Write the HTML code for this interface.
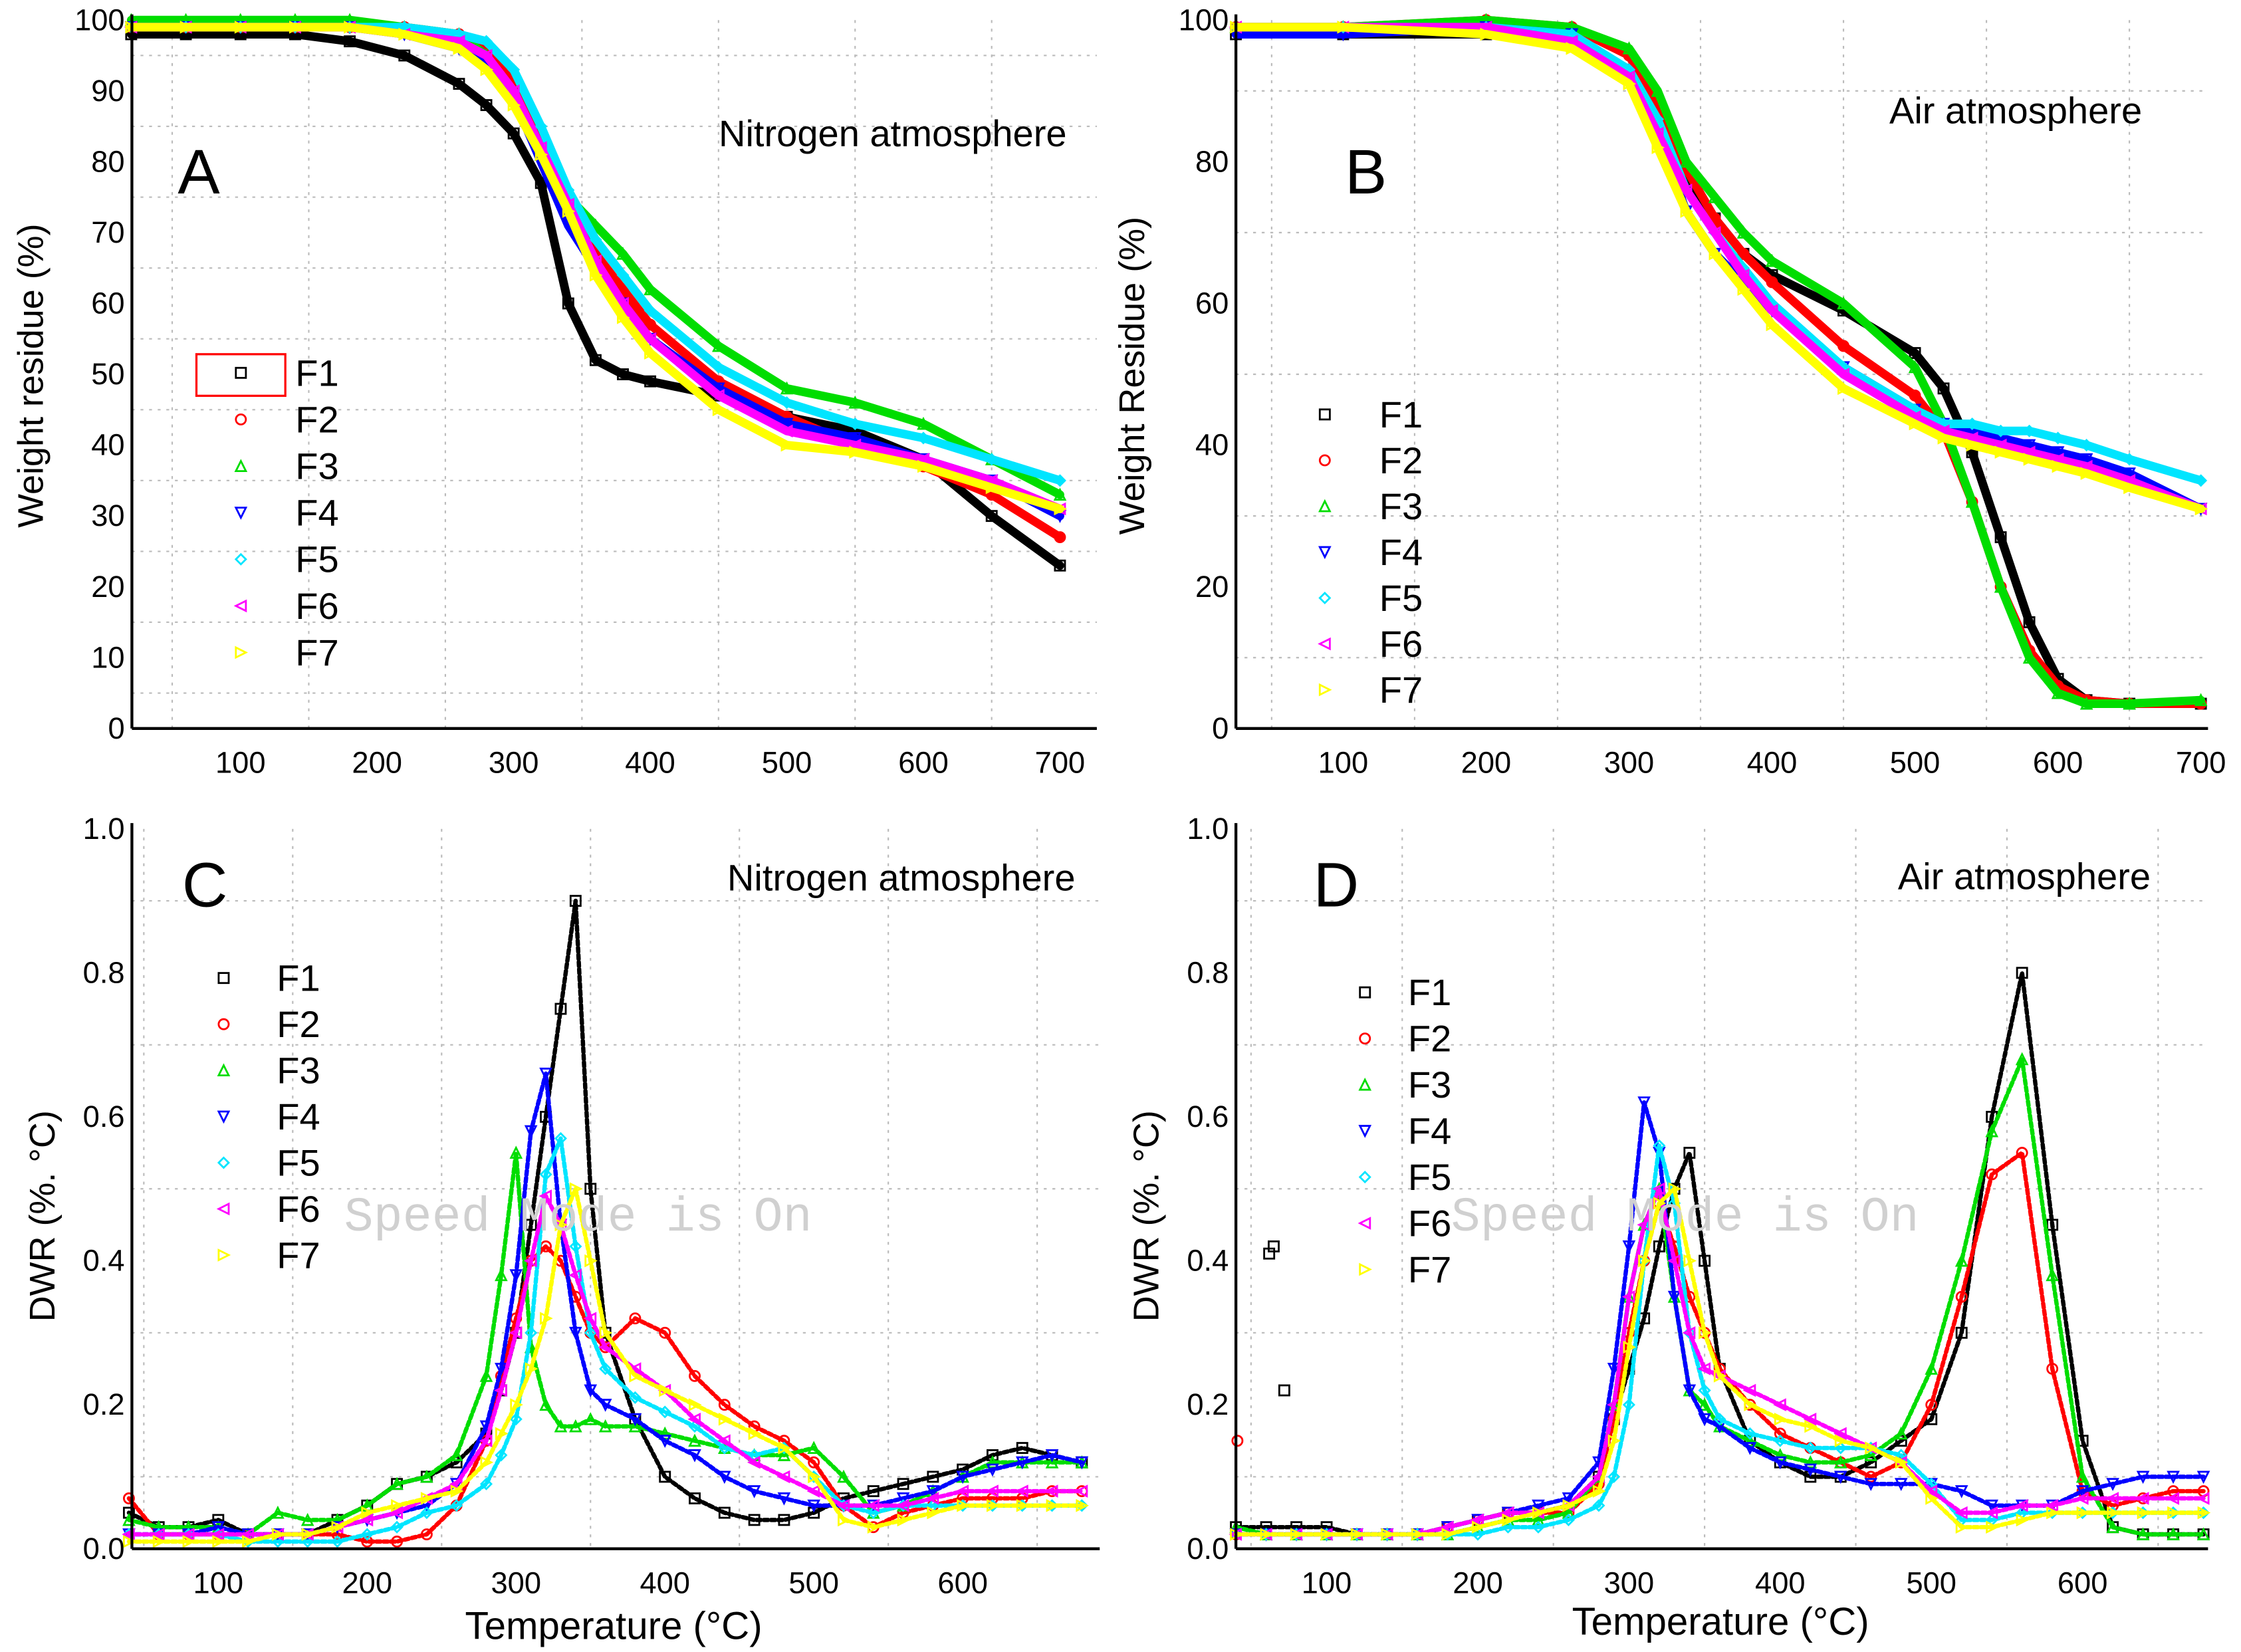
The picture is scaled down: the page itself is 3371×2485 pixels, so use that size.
<!DOCTYPE html>
<html><head><meta charset="utf-8">
<style>
html,body{margin:0;padding:0;background:#fff;}
svg{display:block;}
text{font-family:"Liberation Sans",sans-serif;fill:#000;}
</style></head>
<body>
<svg id="fig" width="3371" height="2485" viewBox="0 0 1563 1152" preserveAspectRatio="none" xmlns="http://www.w3.org/2000/svg"></svg>
<script>
// ---------- DATA ----------
const seriesNames = ["F1","F2","F3","F4","F5","F6","F7"];
const seriesColors = ["#000000","#ff0000","#00dd00","#0000ff","#00e5ff","#ff00ff","#ffff00"];
const seriesShapes = ["square","circle","up","down","diamond","left","right"];

const tempsA = [20,60,100,140,180,220,260,280,300,320,340,360,380,400,450,500,550,600,650,700];
const a_F1 = [98,98,98,98,97,95,91,88,84,77,60,52,50,49,47,44,42,38,30,23];
const a_F2 = [99,99,99,99,99,99,98,96,91,82,74,67,62,57,49,44,40,37,33,27];
const a_F3 = [100,100,100,100,100,99,98,95,89,81,75,71,67,62,54,48,46,43,38,33];
const a_F4 = [99,99,99,99,99,98,96,94,89,80,71,65,60,55,48,43,41,38,35,30];
const a_F5 = [99,99,99,99,99,99,98,97,93,85,76,69,64,59,51,46,43,41,38,35];
const a_F6 = [99,99,99,99,99,98,97,95,90,82,74,66,60,55,47,42,40,38,35,31];
const a_F7 = [99,99,99,99,99,98,96,93,88,81,73,64,58,53,45,40,39,37,34,31];

const tempsB = [25,100,200,260,300,320,340,360,380,400,450,500,520,540,560,580,600,620,650,700];
const b_F1 = [98,98,98,97,93,87,78,72,67,64,59,53,48,39,27,15,7,4,3.5,3.5];
const b_F2 = [99,99,100,99,95,88,79,72,67,63,54,47,42,32,20,11,6,4,3.5,3.5];
const b_F3 = [99,99,100,99,96,90,80,75,70,66,60,51,43,32,20,10,5,3.5,3.5,4];
const b_F4 = [98,98,99,98,92,84,73,67,63,59,51,45,43,42,41,40,39,38,36,31];
const b_F5 = [99,99,99,98,93,86,76,70,65,60,51,45,43,43,42,42,41,40,38,35];
const b_F6 = [99,99,99,97,92,84,76,70,64,59,50,44,42,41,40,39,38,37,35,31];
const b_F7 = [99,99,98,96,91,82,73,67,62,57,48,43,41,40,39,38,37,36,34,31];

const tempsDTG = [40,60,80,100,120,140,160,180,200,220,240,260,280,290,300,310,320,330,340,350,360,380,400,420,440,460,480,500,520,540,560,580,600,620,640,660,680];
const c_F1 = [.05,.03,.03,.04,.02,.02,.02,.04,.06,.09,.10,.12,.16,.22,.30,.45,.60,.75,.90,.50,.30,.18,.10,.07,.05,.04,.04,.05,.07,.08,.09,.10,.11,.13,.14,.13,.12];
const c_F2 = [.07,.02,.02,.02,.02,.02,.02,.02,.01,.01,.02,.06,.15,.24,.32,.40,.42,.40,.35,.30,.28,.32,.30,.24,.20,.17,.15,.12,.06,.03,.05,.06,.07,.07,.07,.08,.08];
const c_F3 = [.04,.03,.03,.03,.02,.05,.04,.04,.06,.09,.10,.13,.24,.38,.55,.28,.20,.17,.17,.18,.17,.17,.16,.15,.14,.13,.13,.14,.10,.05,.06,.08,.10,.12,.12,.12,.12];
const c_F4 = [.02,.02,.02,.03,.02,.02,.02,.03,.04,.05,.06,.09,.17,.25,.38,.58,.66,.45,.30,.22,.20,.18,.15,.13,.10,.08,.07,.06,.06,.06,.07,.08,.10,.11,.12,.13,.12];
const c_F5 = [.02,.02,.02,.02,.01,.01,.01,.01,.02,.03,.05,.06,.09,.13,.18,.30,.52,.57,.42,.30,.25,.21,.19,.17,.14,.13,.14,.10,.06,.05,.06,.06,.06,.06,.06,.06,.06];
const c_F6 = [.02,.02,.02,.02,.02,.02,.02,.03,.04,.05,.07,.09,.15,.22,.30,.40,.49,.45,.38,.32,.28,.25,.22,.18,.15,.12,.10,.08,.06,.06,.06,.07,.08,.08,.08,.08,.08];
const c_F7 = [.01,.01,.01,.01,.01,.02,.02,.03,.05,.06,.07,.08,.12,.16,.20,.25,.32,.45,.50,.40,.30,.24,.22,.20,.18,.16,.14,.10,.04,.03,.04,.05,.06,.06,.06,.06,.06];

const d_F1 = [.03,.03,.03,.03,.02,.02,.02,.03,.04,.05,.05,.06,.10,.18,.25,.32,.42,.50,.55,.40,.25,.15,.12,.10,.10,.12,.15,.18,.30,.60,.80,.45,.15,.03,.02,.02,.02];
const d_F2 = [.02,.02,.02,.02,.02,.02,.02,.03,.04,.05,.05,.05,.09,.18,.30,.40,.48,.42,.35,.30,.25,.20,.16,.14,.12,.10,.12,.20,.35,.52,.55,.25,.08,.06,.07,.08,.08];
const d_F3 = [.03,.02,.02,.02,.02,.02,.02,.02,.03,.04,.04,.05,.10,.20,.35,.45,.50,.35,.22,.20,.17,.15,.13,.12,.12,.13,.16,.25,.40,.58,.68,.38,.10,.03,.02,.02,.02];
const d_F4 = [.02,.02,.02,.02,.02,.02,.02,.03,.04,.05,.06,.07,.12,.25,.42,.62,.55,.35,.22,.18,.17,.14,.12,.11,.10,.09,.09,.09,.08,.06,.06,.06,.08,.09,.10,.10,.10];
const d_F5 = [.02,.02,.02,.02,.02,.02,.02,.02,.02,.03,.03,.04,.06,.10,.20,.40,.56,.48,.30,.22,.18,.16,.15,.14,.14,.14,.13,.09,.04,.04,.05,.05,.05,.05,.05,.05,.05];
const d_F6 = [.02,.02,.02,.02,.02,.02,.02,.03,.04,.05,.05,.06,.10,.20,.35,.45,.50,.40,.30,.25,.24,.22,.20,.18,.16,.14,.12,.08,.05,.05,.06,.06,.07,.07,.07,.07,.07];
const d_F7 = [.02,.02,.02,.02,.02,.02,.02,.02,.03,.04,.05,.06,.08,.15,.28,.40,.48,.50,.40,.30,.24,.20,.18,.17,.15,.14,.12,.07,.03,.03,.04,.05,.05,.05,.05,.05,.05];
// isolated outlier points (markers only)
const d_F1_outTemps = [62,65,72];
const d_F1_outVals = [.41,.42,.22];
const d_F2_outTemps = [41];
const d_F2_outVals = [.15];

const ticksTGAx = [100,200,300,400,500,600,700];
const ticksAy = [0,10,20,30,40,50,60,70,80,90,100];
const ticksBy = [0,20,40,60,80,100];
const ticksDTGx = [100,200,300,400,500,600];
const ticksDTGy = ["0.0","0.2","0.4","0.6","0.8","1.0"];

// ---------- RENDER ----------
const NS = "http://www.w3.org/2000/svg";
const svg = document.getElementById("fig");
function mk(tag, attrs, parent){
  const e = document.createElementNS(NS, tag);
  for (const k in attrs) e.setAttribute(k, attrs[k]);
  (parent||svg).appendChild(e);
  return e;
}
function marker(g, shape, x, y, color, s){
  let e;
  if (shape==="square") e = mk("rect",{x:x-s,y:y-s,width:2*s,height:2*s,fill:"none",stroke:color,"stroke-width":1.3},g);
  else if (shape==="circle") e = mk("circle",{cx:x,cy:y,r:s,fill:"none",stroke:color,"stroke-width":1.3},g);
  else {
    let p;
    if (shape==="up") p=[[x,y-s],[x-s,y+s],[x+s,y+s]];
    else if (shape==="down") p=[[x-s,y-s],[x+s,y-s],[x,y+s]];
    else if (shape==="diamond") p=[[x,y-s],[x+s,y],[x,y+s],[x-s,y]];
    else if (shape==="left") p=[[x-s,y],[x+s,y-s],[x+s,y+s]];
    else p=[[x+s,y],[x-s,y-s],[x-s,y+s]];
    e = mk("polygon",{points:p.map(q=>q.join(",")).join(" "),fill:"none",stroke:color,"stroke-width":1.3},g);
  }
  
  
  return e;
}

function panel(cfg){
  const g = mk("g",{});
  
  
  const X = t => cfg.x0 + (t - cfg.tmin) / (cfg.tmax - cfg.tmin) * (cfg.x1 - cfg.x0);
  const Y = v => cfg.y0 - (v - cfg.vmin) / (cfg.vmax - cfg.vmin) * (cfg.y0 - cfg.y1);
  const grid = mk("g",{stroke:"#bbb","stroke-width":1,"stroke-dasharray":"2,4"},g);
  
  
  cfg.gridX.forEach(t=>{ if(t>cfg.tmin && t<cfg.tmax) mk("line",{x1:X(t),x2:X(t),y1:cfg.y1,y2:cfg.y0},grid); });
  cfg.gridY.forEach(v=>{ mk("line",{x1:cfg.x0,x2:cfg.x1,y1:Y(v),y2:Y(v)},grid); });
  cfg.series.forEach((vals,i)=>{
    const sg = mk("g",{},g);
    
    
    const pts = cfg.temps.map((t,j)=>X(t)+","+Y(vals[j])).join(" ");
    const pl = mk("polyline",{points:pts,fill:"none",stroke:seriesColors[i],"stroke-width":cfg.lw,"stroke-linejoin":"round","stroke-linecap":"round","stroke-dasharray":cfg.dash||"none"},sg);
    
    
    cfg.temps.forEach((t,j)=>marker(sg, seriesShapes[i], X(t), Y(vals[j]), seriesColors[i], 3.5));
  });
  (cfg.outliers||[]).forEach(o=>{
    o.t.forEach((t,j)=>marker(g, seriesShapes[o.i], X(t), Y(o.v[j]), seriesColors[o.i], 3.5));
  });
  const ax = mk("g",{stroke:"#000","stroke-width":2},g);
  
  
  mk("line",{x1:cfg.x0,x2:cfg.x0,y1:cfg.y1-4,y2:cfg.y0},ax);
  mk("line",{x1:cfg.x0,x2:cfg.x1,y1:cfg.y0,y2:cfg.y0},ax);
  cfg.ticksX.forEach(t=>{
    const e = mk("text",{x:X(t),y:cfg.y0+31,"font-size":21,"text-anchor":"middle"},g);
    e.textContent = t;
    
    
  });
  cfg.ticksY.forEach(v=>{
    const e = mk("text",{x:cfg.x0-5,y:Y(+v)+7,"font-size":21,"text-anchor":"end"},g);
    e.textContent = v;
    
    
  });
  const yt = mk("text",{x:0,y:0,"font-size":25,"text-anchor":"middle",transform:`translate(${cfg.ytx},${cfg.yty}) rotate(-90)`},g);
  yt.textContent = cfg.ytitle;
  
  
  if (cfg.xtitle){
    const xt = mk("text",{x:cfg.xtx,y:cfg.xty,"font-size":27,"text-anchor":"middle"},g);
    xt.textContent = cfg.xtitle;
    
    
  }
  const lt = mk("text",{x:cfg.letter[1],y:cfg.letter[2],"font-size":44},g);
  lt.textContent = cfg.letter[0];
  
  
  const at = mk("text",{x:cfg.atm[1],y:cfg.atm[2],"font-size":26,"text-anchor":"end"},g);
  at.textContent = cfg.atm[0];
  
  
  if (cfg.watermark){
    const w = mk("text",{x:cfg.watermark[0],y:cfg.watermark[1],"font-size":34},g);
    w.setAttribute("style","fill:#d0d0d0;font-family:'Liberation Mono',monospace");
    w.textContent = "Speed Mode is On";
    
    
  }
  const lg = mk("g",{},g);
  
  
  seriesNames.forEach((n,i)=>{
    const yy = cfg.leg.y + i*cfg.leg.dy;
    const it = mk("g",{},lg);
    
    
    marker(it, seriesShapes[i], cfg.leg.mx, yy, seriesColors[i], 3.5);
    const t = mk("text",{x:cfg.leg.tx,y:yy+9,"font-size":26},it);
    t.textContent = n;
    
    
  });
  if (cfg.legBox){
    const r = mk("rect",{x:cfg.legBox[0],y:cfg.legBox[1],width:cfg.legBox[2],height:cfg.legBox[3],fill:"none",stroke:"#ff0000","stroke-width":1.5},lg);
    
    
  }
}

panel({name:"panel-a", x0:92,x1:765,y0:508,y1:14, tmin:20.5,tmax:727, vmin:0,vmax:100,
  temps:tempsA, series:[a_F1,a_F2,a_F3,a_F4,a_F5,a_F6,a_F7], lw:6,
  gridX:[50,150,250,350,450,550,650], gridY:[5,15,25,35,45,55,65,75,85,95],
  ticksX:ticksTGAx, ticksY:ticksAy, ytitle:"Weight residue (%)", ytx:30, yty:262,
  letter:["A",124,135], atm:["Nitrogen atmosphere",744,102],
  leg:{y:260,dy:32.5,mx:168,tx:206}, legBox:[137,247,62,29]});

panel({name:"panel-b", x0:862,x1:1540,y0:508,y1:14, tmin:25,tmax:705, vmin:0,vmax:100,
  temps:tempsB, series:[b_F1,b_F2,b_F3,b_F4,b_F5,b_F6,b_F7], lw:6,
  gridX:[50,150,250,350,450,550,650], gridY:[10,30,50,70,90],
  ticksX:ticksTGAx, ticksY:ticksBy, ytitle:"Weight Residue (%)", ytx:798, yty:262,
  letter:["B",938,135], atm:["Air atmosphere",1494,86],
  leg:{y:289,dy:32,mx:924,tx:962}});

panel({name:"panel-c", x0:92,x1:767,y0:1080,y1:578, tmin:42,tmax:692, vmin:0,vmax:1,
  temps:tempsDTG, series:[c_F1,c_F2,c_F3,c_F4,c_F5,c_F6,c_F7], lw:3, dash:"3,2",
  gridX:[50,150,250,350,450,550,650], gridY:[0.1,0.3,0.5,0.7,0.9],
  ticksX:ticksDTGx, ticksY:ticksDTGy, ytitle:"DWR (%. °C)", ytx:38, yty:848,
  xtitle:"Temperature (°C)", xtx:428, xty:1143,
  letter:["C",127,632], atm:["Nitrogen atmosphere",750,621],
  leg:{y:682,dy:32.2,mx:156,tx:193}, watermark:[240,858]});

panel({name:"panel-d", x0:862,x1:1540,y0:1080,y1:578, tmin:40,tmax:683, vmin:0,vmax:1,
  temps:tempsDTG, series:[d_F1,d_F2,d_F3,d_F4,d_F5,d_F6,d_F7], lw:3, dash:"3,2",
  outliers:[{i:0,t:d_F1_outTemps,v:d_F1_outVals},{i:1,t:d_F2_outTemps,v:d_F2_outVals}],
  gridX:[50,150,250,350,450,550,650], gridY:[0.1,0.3,0.5,0.7,0.9],
  ticksX:ticksDTGx, ticksY:ticksDTGy, ytitle:"DWR (%. °C)", ytx:808, yty:848,
  xtitle:"Temperature (°C)", xtx:1200, xty:1140,
  letter:["D",916,632], atm:["Air atmosphere",1500,620],
  leg:{y:692,dy:32.2,mx:952,tx:982}, watermark:[1012,858]});
</script>
</body></html>
